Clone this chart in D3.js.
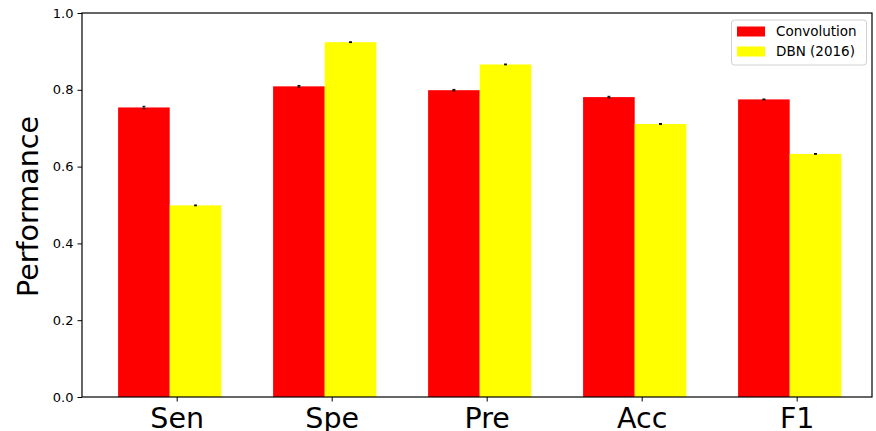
<!DOCTYPE html>
<html>
<head>
<meta charset="utf-8">
<script src="https://cdn.jsdelivr.net/npm/d3@7"></script>
<style>
  html, body { margin: 0; padding: 0; background: #fff; }
  svg { display: block; font-family: "DejaVu Sans", sans-serif; }
</style>
</head>
<body>
<svg id="chart" width="876" height="431"></svg>
<script>
// Metrics compared between the two models
const categories = ["Sen", "Spe", "Pre", "Acc", "F1"];
const convolution = [0.754, 0.809, 0.799, 0.781, 0.775];
const convolutionErr = [0.003, 0.002, 0.002, 0.002, 0.001];
const dbn = [0.499, 0.924, 0.866, 0.711, 0.633];
const dbnErr = [0.001, 0.001, 0.001, 0.001, 0.001];
const seriesNames = ["Convolution", "DBN (2016)"];
const seriesColors = ["#ff0000", "#ffff00"];
const yTicks = [0.0, 0.2, 0.4, 0.6, 0.8, 1.0];

const svg = d3.select("#chart");
const plotLeft = 82, plotRight = 872, plotTop = 13, plotBottom = 397;

// Category positions on a continuous index axis
const x = d3.scaleLinear().domain([-0.611, 4.486]).range([plotLeft, plotRight]);
const y = d3.scaleLinear().domain([0, 1]).range([plotBottom, plotTop]);

const barW = 0.333;
const offsets = [-0.378, -0.045]; // left edge of each series' bar relative to the tick

const series = [
  { values: convolution, err: convolutionErr },
  { values: dbn, err: dbnErr }
];

series.forEach((s, si) => {
  const g = svg.append("g");
  g.selectAll("rect")
    .data(s.values)
    .join("rect")
    .attr("x", (d, i) => x(i + offsets[si]))
    .attr("width", x(barW) - x(0))
    .attr("y", d => y(d))
    .attr("height", d => y(0) - y(d))
    .attr("fill", seriesColors[si]);
});

// Error bars
series.forEach((s, si) => {
  const g = svg.append("g").attr("stroke", "#000").attr("stroke-width", 1);
  s.values.forEach((v, i) => {
    const cx = x(i + offsets[si] + barW / 2);
    const e = s.err[i];
    g.append("line").attr("x1", cx).attr("x2", cx).attr("y1", y(v - e)).attr("y2", y(v + e));
    g.append("line").attr("x1", cx - 1.5).attr("x2", cx + 1.5).attr("y1", y(v + e)).attr("y2", y(v + e));
    g.append("line").attr("x1", cx - 1.5).attr("x2", cx + 1.5).attr("y1", y(v - e)).attr("y2", y(v - e));
  });
});

// Y axis
const yAxis = d3.axisLeft(y).tickValues(yTicks).tickFormat(d3.format(".1f")).tickSize(4.5).tickPadding(4);
const yg = svg.append("g").attr("transform", `translate(${plotLeft},0)`).call(yAxis);
yg.select(".domain").remove();
yg.selectAll("text").attr("font-size", 13).attr("font-family", "DejaVu Sans").attr("fill", "#000");
yg.selectAll("line").attr("stroke", "#000").attr("stroke-width", 1);

// X axis
const xAxis = d3.axisBottom(x).tickValues(d3.range(categories.length)).tickFormat(i => categories[i]).tickSize(4.5).tickPadding(6);
const xg = svg.append("g").attr("transform", `translate(0,${plotBottom})`).call(xAxis);
xg.select(".domain").remove();
xg.selectAll("text").attr("font-size", 28.5).attr("font-family", "DejaVu Sans").attr("fill", "#000");
xg.selectAll("line").attr("stroke", "#000").attr("stroke-width", 1);

// Frame
svg.append("rect")
  .attr("x", plotLeft).attr("y", plotTop)
  .attr("width", plotRight - plotLeft).attr("height", plotBottom - plotTop)
  .attr("fill", "none").attr("stroke", "#000").attr("stroke-width", 1.2);

// Y label
svg.append("text")
  .attr("transform", `translate(38,206.5) rotate(-90)`)
  .attr("text-anchor", "middle")
  .attr("font-size", 28.6)
  .text("Performance");

// Legend
const lg = svg.append("g");
lg.append("rect")
  .attr("x", 731.5).attr("y", 20).attr("width", 135).attr("height", 45)
  .attr("rx", 3).attr("fill", "#fff").attr("fill-opacity", 0.8)
  .attr("stroke", "#d0d0d0").attr("stroke-width", 1);
seriesNames.forEach((name, i) => {
  const cy = 31.5 + i * 20;
  lg.append("rect").attr("x", 737).attr("y", cy - 5).attr("width", 28).attr("height", 10).attr("fill", seriesColors[i]);
  lg.append("text").attr("x", 776).attr("y", cy).attr("dy", "0.35em")
    .attr("font-size", 13.5).text(name);
});
</script>
</body>
</html>
